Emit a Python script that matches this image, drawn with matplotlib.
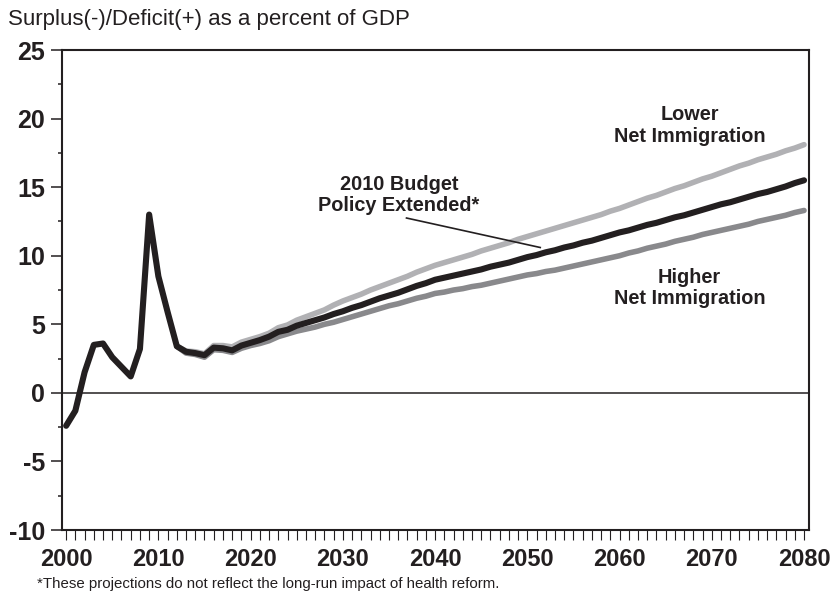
"""Deficit projections under three net-immigration assumptions."""
import matplotlib
matplotlib.use("Agg")

import matplotlib.pyplot as plt  # noqa: E402
from matplotlib.ticker import MultipleLocator  # noqa: E402

plt.rcParams["font.family"] = ["Liberation Sans", "DejaVu Sans"]
plt.rcParams["axes.unicode_minus"] = False

_BLACK = "#231f20"
_LIGHT = "#b1b1b4"
_DARK = "#89898c"

# Historical + budget-policy-extended path, 2000-2080.
YEARS_HIST = list(range(2000, 2012))
HIST = [-2.4, -1.3, 1.5, 3.5, 3.6, 2.6, 1.9, 1.2, 3.2, 13.0, 8.5, 5.9]

YEARS_PROJ = list(range(2012, 2081))
BASELINE = [
    3.4, 3.0, 2.9, 2.75, 3.3, 3.25, 3.1, 3.45,
    3.65, 3.85, 4.1, 4.45, 4.6, 4.9, 5.1, 5.3, 5.5, 5.75,
    5.95, 6.2, 6.4, 6.65, 6.9, 7.1, 7.3, 7.55, 7.8, 8.0,
    8.25, 8.4, 8.55, 8.7, 8.85, 9.0, 9.2, 9.35, 9.5, 9.7,
    9.9, 10.05, 10.25, 10.4, 10.6, 10.75, 10.95, 11.1, 11.3, 11.5,
    11.7, 11.85, 12.05, 12.25, 12.4, 12.6, 12.8, 12.95, 13.15, 13.35,
    13.55, 13.75, 13.9, 14.1, 14.3, 14.5, 14.65, 14.85, 15.05, 15.3,
    15.5,
]
LOWER_IMM = [
    3.4, 3.05, 3.0, 2.85, 3.45, 3.45, 3.35, 3.7,
    3.9, 4.1, 4.35, 4.75, 4.95, 5.3, 5.55, 5.8, 6.05, 6.4,
    6.7, 6.95, 7.2, 7.5, 7.75, 8.0, 8.25, 8.5, 8.8, 9.05,
    9.3, 9.5, 9.7, 9.9, 10.1, 10.35, 10.55, 10.75, 10.95, 11.2,
    11.4, 11.6, 11.8, 12.0, 12.2, 12.4, 12.6, 12.8, 13.0, 13.25,
    13.45, 13.7, 13.95, 14.2, 14.4, 14.65, 14.9, 15.1, 15.35, 15.6,
    15.8, 16.05, 16.3, 16.55, 16.75, 17.0, 17.2, 17.4, 17.65, 17.85,
    18.1,
]
HIGHER_IMM = [
    3.4, 2.9, 2.8, 2.6, 3.15, 3.1, 2.95, 3.25,
    3.45, 3.6, 3.8, 4.1, 4.3, 4.5, 4.65, 4.8, 5.0, 5.15,
    5.35, 5.55, 5.75, 5.95, 6.15, 6.35, 6.5, 6.7, 6.9, 7.05,
    7.25, 7.35, 7.5, 7.6, 7.75, 7.85, 8.0, 8.15, 8.3, 8.45,
    8.6, 8.7, 8.85, 8.95, 9.1, 9.25, 9.4, 9.55, 9.7, 9.85,
    10.0, 10.2, 10.35, 10.55, 10.7, 10.85, 11.05, 11.2, 11.35, 11.55,
    11.7, 11.85, 12.0, 12.15, 12.3, 12.5, 12.65, 12.8, 12.95, 13.15,
    13.3,
]

X_TICKS = list(range(2000, 2081, 10))
Y_TICKS = list(range(-10, 26, 5))


def deficit_chart():
    fig = plt.figure(figsize=(8.32, 5.94), dpi=100)
    ax = fig.add_axes([0.0745, 0.1077, 0.898, 0.8081])

    ax.axhline(0, color=_BLACK, lw=1.1, zorder=1)
    ax.plot(YEARS_PROJ, LOWER_IMM, color=_LIGHT, lw=4.0, zorder=2,
            solid_capstyle="round", solid_joinstyle="round")
    ax.plot(YEARS_PROJ, HIGHER_IMM, color=_DARK, lw=4.0, zorder=2,
            solid_capstyle="round", solid_joinstyle="round")
    ax.plot(YEARS_HIST + YEARS_PROJ, HIST + BASELINE, color=_BLACK, lw=4.4,
            zorder=3, solid_capstyle="round", solid_joinstyle="round")

    ax.set_xlim(1999.55, 2080.55)
    ax.set_ylim(-10, 25)
    ax.set_xticks(X_TICKS)
    ax.xaxis.set_minor_locator(MultipleLocator(1))
    ax.set_yticks(Y_TICKS)
    ax.yaxis.set_minor_locator(MultipleLocator(2.5))
    ax.tick_params(axis="x", which="both", length=7, width=0.8, color=_BLACK,
                   pad=6, labelsize=17)
    ax.tick_params(axis="y", which="major", length=8, width=1.1, color=_BLACK,
                   pad=4, labelsize=18)
    ax.tick_params(axis="y", which="minor", length=3, width=1.1, color=_BLACK)
    for lab in ax.get_xticklabels() + ax.get_yticklabels():
        lab.set_fontweight("bold")
        lab.set_color(_BLACK)
    for s in ax.spines.values():
        s.set_linewidth(1.5)
        s.set_color(_BLACK)

    note = dict(ha="center", va="center", fontsize=14.3, fontweight="bold",
                color=_BLACK, linespacing=1.15)
    ax.text(2067.6, 19.5, "Lower\nNet Immigration", **note)
    ax.text(2067.6, 7.62, "Higher\nNet Immigration", **note)
    ax.text(2036.1, 14.44, "2010 Budget\nPolicy Extended*", **note)
    ax.plot([2036.9, 2051.4], [12.75, 10.6], color=_BLACK, lw=1.2, zorder=4)

    fig.text(8 / 832, 1 - 20 / 594, "Surplus(-)/Deficit(+) as a percent of GDP",
             ha="left", va="center", fontsize=16, color=_BLACK)
    fig.text(37 / 832, 1 - 584 / 594,
             "*These projections do not reflect the long-run impact of health reform.",
             ha="left", va="center", fontsize=10.8, color=_BLACK)
    return fig


if __name__ == "__main__":
    deficit_chart().savefig("out.png", dpi=100, facecolor="white")
